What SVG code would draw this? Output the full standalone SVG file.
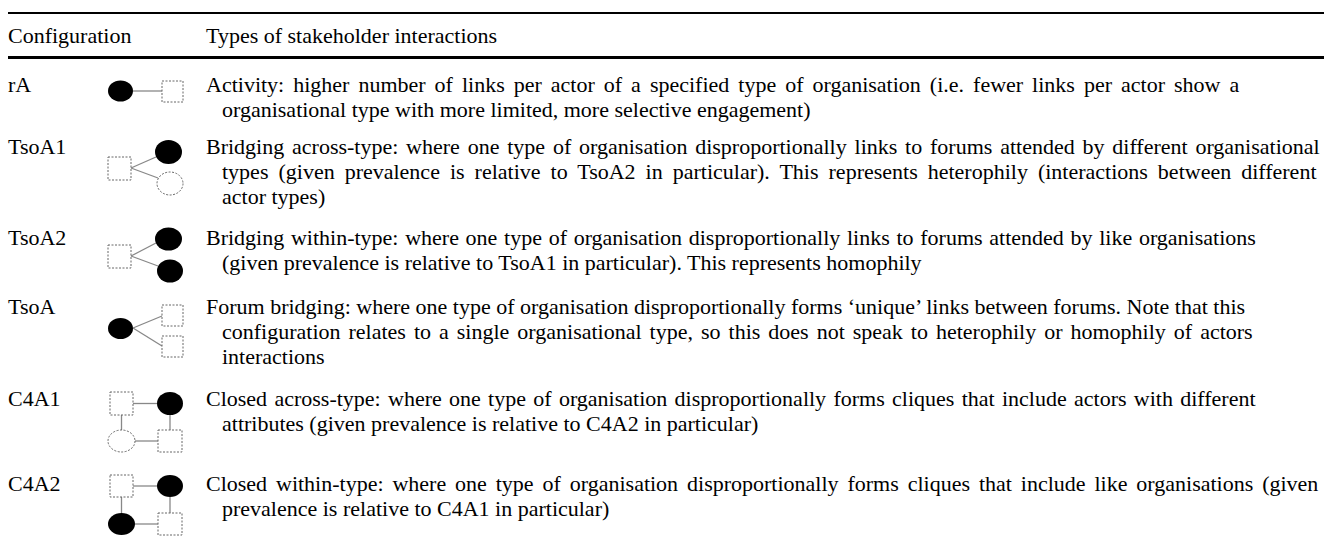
<svg xmlns="http://www.w3.org/2000/svg" width="1326" height="547" viewBox="0 0 1326 547">
<style>
text{font-family:"Liberation Serif","Times New Roman",serif;font-size:22px;fill:#000}
.rule{stroke:#000}
.f{fill:#000;stroke:none}
.d{fill:#fff;stroke:#666;stroke-width:1;stroke-dasharray:2 1.5}
.e{stroke:#888;stroke-width:1.3;fill:none}
</style>
<rect width="1326" height="547" fill="#fff"/>
<line class="rule" x1="8" y1="13" x2="1324" y2="13" stroke-width="2"/>
<line class="rule" x1="8" y1="57.5" x2="1324" y2="57.5" stroke-width="3"/>
<g id="header">
<text x="8" y="43">Configuration</text>
<text x="206" y="43">Types of stakeholder interactions</text>
</g>
<g id="connectors">
<line class="e" x1="133" y1="91" x2="162" y2="91"/>
<line class="e" x1="131" y1="168" x2="156" y2="157"/>
<line class="e" x1="131" y1="168" x2="158" y2="178"/>
<line class="e" x1="131" y1="256" x2="156" y2="243"/>
<line class="e" x1="131" y1="256" x2="158" y2="266"/>
<line class="e" x1="133" y1="328" x2="162" y2="316"/>
<line class="e" x1="133" y1="328" x2="162" y2="346"/>
<line class="e" x1="133" y1="403.5" x2="157" y2="403.5"/>
<line class="e" x1="121.5" y1="415" x2="121.5" y2="430"/>
<line class="e" x1="170" y1="415" x2="170" y2="430"/>
<line class="e" x1="135" y1="441" x2="158" y2="441"/>
<line class="e" x1="133" y1="486" x2="157" y2="486"/>
<line class="e" x1="121.5" y1="497" x2="121.5" y2="513"/>
<line class="e" x1="170" y1="497" x2="170" y2="513"/>
<line class="e" x1="135" y1="524" x2="158" y2="524"/>
</g>
<g id="row-rA">
<text x="8" y="92">rA</text>
<ellipse class="f" cx="120.5" cy="91" rx="12.5" ry="10.5"/>
<rect class="d" x="162" y="81" width="21" height="21"/>
<text x="206" y="92" word-spacing="3.5">Activity: higher number of links per actor of a specified type of organisation (i.e. fewer links per actor show a</text>
<text x="222" y="117">organisational type with more limited, more selective engagement)</text>
</g>
<g id="row-TsoA1">
<text x="8" y="154">TsoA1</text>
<rect class="d" x="108" y="157" width="23" height="23"/>
<ellipse class="f" cx="168.5" cy="152" rx="13.5" ry="12"/>
<ellipse class="d" cx="170" cy="183.5" rx="13" ry="11.5"/>
<text x="206" y="154" word-spacing="2.3">Bridging across-type: where one type of organisation disproportionally links to forums attended by different organisational</text>
<text x="222" y="179" word-spacing="4.5">types (given prevalence is relative to TsoA2 in particular). This represents heterophily (interactions between different</text>
<text x="222" y="204">actor types)</text>
</g>
<g id="row-TsoA2">
<text x="8" y="245">TsoA2</text>
<rect class="d" x="108" y="245" width="23" height="23"/>
<ellipse class="f" cx="168.5" cy="239" rx="13.5" ry="11.5"/>
<ellipse class="f" cx="170" cy="271" rx="13" ry="11.5"/>
<text x="206" y="245" word-spacing="1.2">Bridging within-type: where one type of organisation disproportionally links to forums attended by like organisations</text>
<text x="222" y="270">(given prevalence is relative to TsoA1 in particular). This represents homophily</text>
</g>
<g id="row-TsoA">
<text x="8" y="314">TsoA</text>
<ellipse class="f" cx="120.5" cy="328.5" rx="12.5" ry="10.5"/>
<rect class="d" x="162" y="305" width="21" height="21"/>
<rect class="d" x="162" y="336" width="21" height="21"/>
<text x="206" y="314">Forum bridging: where one type of organisation disproportionally forms ‘unique’ links between forums. Note that this</text>
<text x="222" y="339" word-spacing="2.5">configuration relates to a single organisational type, so this does not speak to heterophily or homophily of actors</text>
<text x="222" y="364">interactions</text>
</g>
<g id="row-C4A1">
<text x="8" y="406">C4A1</text>
<rect class="d" x="110" y="392" width="23" height="23"/>
<ellipse class="f" cx="170" cy="403.5" rx="13" ry="11.5"/>
<ellipse class="d" cx="121.5" cy="441" rx="13.5" ry="11"/>
<rect class="d" x="158" y="430" width="24" height="22"/>
<text x="206" y="406" word-spacing="1.8">Closed across-type: where one type of organisation disproportionally forms cliques that include actors with different</text>
<text x="222" y="431">attributes (given prevalence is relative to C4A2 in particular)</text>
</g>
<g id="row-C4A2">
<text x="8" y="491">C4A2</text>
<rect class="d" x="110" y="475" width="23" height="22"/>
<ellipse class="f" cx="170" cy="486" rx="13" ry="11"/>
<ellipse class="f" cx="121.5" cy="524" rx="13.5" ry="11"/>
<rect class="d" x="158" y="513" width="24" height="22"/>
<text x="206" y="491" word-spacing="3.4">Closed within-type: where one type of organisation disproportionally forms cliques that include like organisations (given</text>
<text x="222" y="516">prevalence is relative to C4A1 in particular)</text>
</g>
</svg>
